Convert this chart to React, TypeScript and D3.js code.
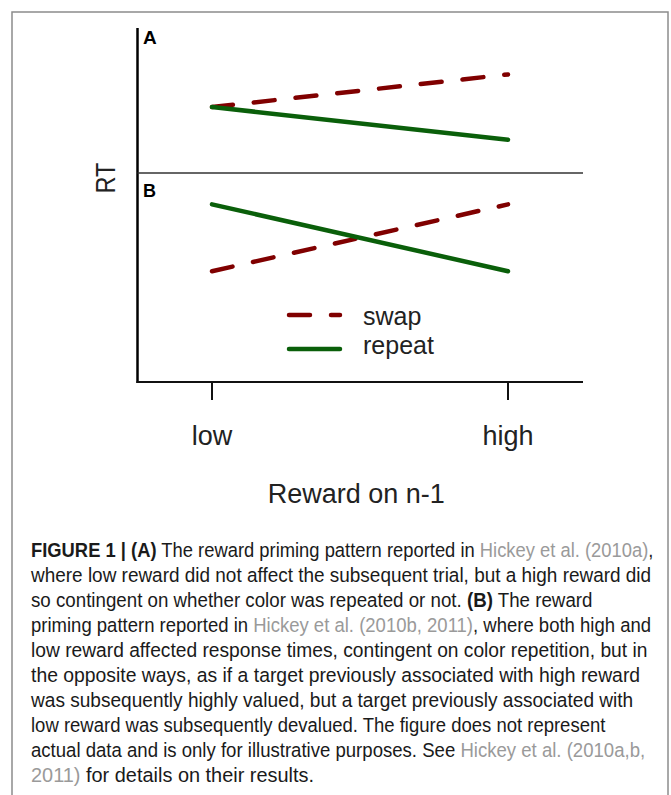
import * as d3 from 'd3';
import React, { useLayoutEffect, useRef, useState } from 'react';

// reward on trial n-1
const rewardLevels = ['low', 'high'];

// illustrative RT values (arbitrary units, 0-10 per panel)
const panelASwap = [4.55, 6.8];
const panelARepeat = [4.55, 2.3];
const panelBSwap = [5.3, 8.5];
const panelBRepeat = [8.5, 5.3];

const seriesNames = ['swap', 'repeat'];

// caption lines: [text, kind] where kind is 'b' bold, 'n' normal, 'g' grey citation
const captionLines: [string, string][][] = [
  [['FIGURE 1 | (A)', 'b'], [' The reward priming pattern reported in ', 'n'], ['Hickey et al. (2010a)', 'g'], [',', 'n']],
  [['where low reward did not affect the subsequent trial, but a high reward did', 'n']],
  [['so contingent on whether color was repeated or not. ', 'n'], ['(B)', 'b'], [' The reward', 'n']],
  [['priming pattern reported in ', 'n'], ['Hickey et al. (2010b, 2011)', 'g'], [', where both high and', 'n']],
  [['low reward affected response times, contingent on color repetition, but in', 'n']],
  [['the opposite ways, as if a target previously associated with high reward', 'n']],
  [['was subsequently highly valued, but a target previously associated with', 'n']],
  [['low reward was subsequently devalued. The figure does not represent', 'n']],
  [['actual data and is only for illustrative purposes. See ', 'n'], ['Hickey et al. (2010a,b,', 'g']],
  [['2011)', 'g'], [' for details on their results.', 'n']],
];
// rendered width of each caption line in the figure (px)
const captionWidths = [622, 620, 561, 620, 616, 609, 602, 574, 614, 283];

const W = 671, H = 795;
const SWAP = '#800000', REPEAT = '#0a5f0a';
const chartFont = '"Liberation Sans", Arial, sans-serif';

export default function App() {
  const capRefs = useRef<(SVGTextElement | null)[]>([]);
  const [scales, setScales] = useState<number[]>(captionLines.map(() => 0.85));

  // condense each caption line horizontally so it spans the same width as the original
  useLayoutEffect(() => {
    const s = capRefs.current.map((el, i) => {
      if (!el) return 0.85;
      const w = el.getComputedTextLength();
      return w > 0 ? captionWidths[i] / w : 0.85;
    });
    setScales(s);
  }, []);

  const axisX = 137.5, axisRight = 583, axisTop = 28, divY = 173, axisBottom = 382;

  const x = d3.scalePoint<string>().domain(rewardLevels).range([212, 508]);
  const yA = d3.scaleLinear().domain([0, 10]).range([divY, axisTop]);
  const yB = d3.scaleLinear().domain([0, 10]).range([axisBottom, divY]);

  const lineA = d3.line<number>().x((_, i) => x(rewardLevels[i])!).y((d) => yA(d));
  const lineB = d3.line<number>().x((_, i) => x(rewardLevels[i])!).y((d) => yB(d));

  const lines = [
    { d: lineA(panelASwap), c: SWAP, dash: '21 21' },
    { d: lineA(panelARepeat), c: REPEAT, dash: null },
    { d: lineB(panelBSwap), c: SWAP, dash: '21 21' },
    { d: lineB(panelBRepeat), c: REPEAT, dash: null },
  ];

  const fill = (k: string) => (k === 'g' ? '#9a9a9a' : '#1a1a1a');

  return (
    <svg width={W} height={H} style={{ position: 'absolute', left: 0, top: 0, background: '#fff' }}>
      <rect x={12} y={12} width={656} height={820} fill="none" stroke="#8c8c8c" strokeWidth={1.5} />

      {/* axes */}
      <line x1={axisX} x2={axisX} y1={axisTop} y2={axisBottom + 1} stroke="#000" strokeWidth={2.5} />
      <line x1={axisX} x2={axisRight} y1={divY} y2={divY} stroke="#333" strokeWidth={1.5} />
      <line x1={axisX - 1} x2={axisRight} y1={axisBottom} y2={axisBottom} stroke="#111" strokeWidth={2} />
      {rewardLevels.map((r) => (
        <g key={r}>
          <line x1={x(r)} x2={x(r)} y1={axisBottom} y2={400} stroke="#111" strokeWidth={2} />
          <text x={x(r)} y={445} textAnchor="middle" fontFamily={chartFont} fontSize={27} fill="#222">{r}</text>
        </g>
      ))}
      <text x={(axisX + axisRight) / 2 - 4} y={503} textAnchor="middle" fontFamily={chartFont} fontSize={27} fill="#222">
        Reward on n-1
      </text>
      <text transform="translate(115,178) rotate(-90)" textAnchor="middle" fontFamily={chartFont} fontSize={28}
        textLength={31} lengthAdjust="spacingAndGlyphs" fill="#222">RT</text>

      <text x={143} y={44} fontFamily={chartFont} fontWeight="bold" fontSize={19}>A</text>
      <text x={143} y={197} fontFamily={chartFont} fontWeight="bold" fontSize={18}>B</text>

      {/* data lines */}
      {lines.map((l, i) => (
        <path key={i} d={l.d || ''} fill="none" stroke={l.c} strokeWidth={4.5} strokeLinecap="round"
          strokeDasharray={l.dash || undefined} />
      ))}

      {/* legend */}
      {seriesNames.map((s, i) => (
        <g key={s} transform={`translate(0,${315 + i * 34})`}>
          <line x1={289} x2={340} y1={0} y2={0} stroke={s === 'swap' ? SWAP : REPEAT} strokeWidth={4.5}
            strokeLinecap="round" strokeDasharray={s === 'swap' ? '21 21' : undefined} />
          <text x={363} y={i === 0 ? 10 : 5} fontFamily={chartFont} fontSize={25} fill="#222">{s}</text>
        </g>
      ))}

      {/* caption */}
      {captionLines.map((segs, i) => (
        <text key={i} ref={(el) => { capRefs.current[i] = el; }}
          transform={`translate(31,${557 + i * 25}) scale(${scales[i]},1)`}
          fontFamily={'"Liberation Sans", Arial, sans-serif'} fontSize={19.5}>
          {segs.map(([t, k], j) => (
            <tspan key={j} fill={fill(k)} fontWeight={k === 'b' ? 'bold' : 'normal'}>{t}</tspan>
          ))}
        </text>
      ))}
    </svg>
  );
}
